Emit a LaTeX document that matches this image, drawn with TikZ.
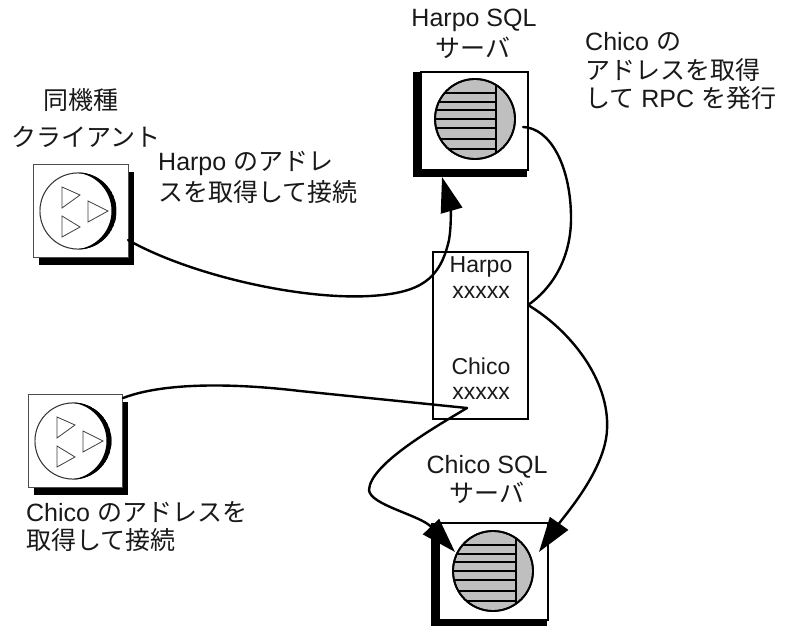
\documentclass[tikz,border=0pt]{standalone}
\usepackage{fontspec}
\setmainfont{Liberation Sans}
\newfontfamily\cjk{Noto Sans CJK JP}
\usetikzlibrary{arrows.meta}
\newcommand{\jp}[1]{{\cjk #1}}
\tikzset{
  x=1pt,y=-1pt,
  lbl/.style={inner sep=0pt,font=\fontsize{25}{25}\selectfont,text=black!90},
  lblL/.style={lbl,anchor=west},
  boxlbl/.style={inner sep=0pt,font=\fontsize{23}{23}\selectfont,text=black!90},
  frame/.style={draw=black,line width=2.4pt,fill=white,inner sep=0pt,anchor=north west},
  cframe/.style={draw=black!70,line width=1pt,fill=white,inner sep=0pt,anchor=north west},
  shadow/.style={fill=black,draw=none,inner sep=0pt,anchor=north west},
  conn/.style={draw=black,line width=2.4pt,line cap=round,line join=miter},
  tip/.style={-{Triangle[length=35pt,width=22pt]}},
  disc/.style={draw=black,line width=1.8pt,fill=black!25},
  bar/.style={draw=black,line width=2pt},
  tri/.style={draw=black!75,line width=0.8pt,fill=white},
}
\newcommand{\server}[8]{% #1 name #2 left #3 top #4 w #5 h #6 cx #7 cy #8 divider
  \node[shadow,minimum width=#4 pt+7pt,minimum height=#5 pt+7pt] at (#2-7,#3+1) {};
  \node[frame,minimum width=#4 pt,minimum height=#5 pt] (#1) at (#2,#3) {};
  \begin{scope}
    \path[disc] (#6,#7) circle (40);
    \clip (#6,#7) circle (39.5);
    \draw[bar] (#8,#7-42) -- (#8,#7+42);
    \foreach \d in {-26,-17,-9,0,9,20,30}
      \draw[bar] (#6-45,#7+\d) -- (#8,#7+\d);
  \end{scope}
  \draw[black,line width=1.8pt] (#6,#7) circle (40);
}
\newcommand{\client}[7]{% #1 name #2 left #3 top #4 w #5 h #6 cx #7 cy
  \node[shadow,minimum width=#4 pt,minimum height=#5 pt] at (#2+6,#3+8) {};
  \node[cframe,minimum width=#4 pt,minimum height=#5 pt] (#1) at (#2,#3) {};
  \draw[black!80,line width=0.9pt] (#6,#7) circle (38);
  \begin{scope}
    \clip (#6,#7) circle (38.5);
    \fill[black,even odd rule] (#6,#7) circle (38.5) (#6-5,#7) circle (38.5);
  \end{scope}
  \draw[tri] (#6-16,#7-24) -- (#6+2,#7-16) -- (#6-16,#7-3) -- cycle;
  \draw[tri] (#6+10,#7-10) -- (#6+30,#7) -- (#6+10,#7+11) -- cycle;
  \draw[tri] (#6-16,#7+5) -- (#6+2,#7+16) -- (#6-16,#7+26) -- cycle;
}
\begin{document}
\begin{tikzpicture}
\useasboundingbox (0,0) rectangle (792,626);
\fill[white] (0,0) rectangle (792,626);

% icons
\server{hs}{420}{71}{107}{98}{475}{119}{496}
\server{cs}{438}{522}{109}{97}{493}{571}{516}
\client{cl}{33}{164}{95}{93}{78}{211}
\client{c2}{28}{394}{94}{93}{73}{441}

% directory box
\node[draw=black,line width=1.5pt,fill=white,inner sep=0pt,anchor=north west,minimum width=95pt,minimum height=167pt] (dir) at (432,251) {};

% connector points
\coordinate (a0) at (128,240);
\coordinate (a1) at (442,177);
\coordinate (b0) at (523,127);
\coordinate (jn) at (528,305);
\coordinate (c1) at (539,552);
\coordinate (d0) at (123,398);
\coordinate (dk) at (467,408);
\coordinate (d1) at (455,552);

\draw[conn,tip] (a0) .. controls (190,275) and (300,300) .. (370,296)
  .. controls (420,293) and (440,280) .. (449,240)
  .. controls (452,222) and (450,205) .. (a1);
\draw[conn] (b0) .. controls (550,128) and (570,165) .. (571,215)
  .. controls (572,260) and (550,290) .. (jn);
\draw[conn,tip] (jn) .. controls (570,330) and (610,380) .. (607,430)
  .. controls (605,470) and (565,515) .. (c1);
\draw[conn] (d0) .. controls (170,380) and (250,385) .. (300,391) -- (dk);
\draw[conn,tip] (dk) .. controls (430,430) and (370,465) .. (369,490)
  .. controls (370,505) and (420,515) .. (d1);

% labels
\node[lbl] (t1) at (474,20) {Harpo SQL};
\node[lbl] (t2) at (473,48) {\jp{サーバ}};
\node[lblL] (t3) at (585,42) {Chico \jp{の}};
\node[lblL] (t4) at (585,70) {\jp{アドレスを取得}};
\node[lblL] (t5) at (585,98) {\jp{して} RPC \jp{を発行}};
\node[lbl] (t6) at (81,100) {\jp{同機種}};
\node[lbl] (t7) at (86,137) {\jp{クライアント}};
\node[lblL] (t8) at (158,163) {Harpo \jp{のアドレ}};
\node[lblL] (t9) at (158,192) {\jp{スを取得して接続}};
\node[boxlbl] (h1) at (481,267) {Harpo};
\node[boxlbl] (h2) at (481,292) {xxxxx};
\node[boxlbl] (h3) at (481,366) {Chico};
\node[boxlbl] (h4) at (481,393) {xxxxx};
\node[lbl] (t10) at (487,467) {Chico SQL};
\node[lbl] (t11) at (487,493) {\jp{サーバ}};
\node[lblL] (t12) at (26,512) {Chico \jp{のアドレスを}};
\node[lblL] (t13) at (26,540) {\jp{取得して接続}};
\end{tikzpicture}
\end{document}
